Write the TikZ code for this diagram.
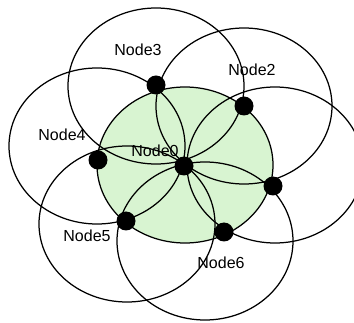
\documentclass[tikz,border=0pt]{standalone}
\usepackage{fontspec}
\setmainfont{Liberation Sans}
\definecolor{rangefill}{RGB}{216,244,209}
\begin{document}
\begin{tikzpicture}[x=1pt,y=-1pt,
  reach/.style={draw=black,line width=1.25pt},
  station/.style={circle,fill=black,inner sep=0pt,minimum size=19pt},
  tag/.style={font=\fontsize{16}{18}\selectfont,inner sep=0pt}]
  \useasboundingbox (0,0) rectangle (354,323);
  \clip (0,0) rectangle (354,323);
  % coverage of the central node
  \fill[rangefill] (185,165) ellipse [x radius=88, y radius=78];
  \draw[reach] (185,165) ellipse [x radius=88, y radius=78];
  % coverage of the surrounding nodes
  \draw[reach] (156,86) ellipse [x radius=88, y radius=78];
  \draw[reach] (244,106) ellipse [x radius=88, y radius=78];
  \draw[reach] (275,165) ellipse [x radius=88, y radius=78];
  \draw[reach] (205,241) ellipse [x radius=88, y radius=79];
  \draw[reach] (127,224) ellipse [x radius=88, y radius=78];
  \draw[reach] (97,146) ellipse [x radius=88, y radius=78];
  % nodes
  \node[station] (n0) at (184,166) {};
  \node[station] (n1) at (273,186) {};
  \node[station] (n2) at (244,106) {};
  \node[station] (n3) at (156,85) {};
  \node[station] (n4) at (98,160) {};
  \node[station] (n5) at (126,221) {};
  \node[station] (n6) at (224,232) {};
  % labels
  \node[tag] (l0) at (155,151) {Node0};
  \node[tag] (l2) at (252,70) {Node2};
  \node[tag] (l3) at (138,50) {Node3};
  \node[tag] (l4) at (62,135) {Node4};
  \node[tag] (l5) at (87,236) {Node5};
  \node[tag] (l6) at (221,263) {Node6};
\end{tikzpicture}
\end{document}
